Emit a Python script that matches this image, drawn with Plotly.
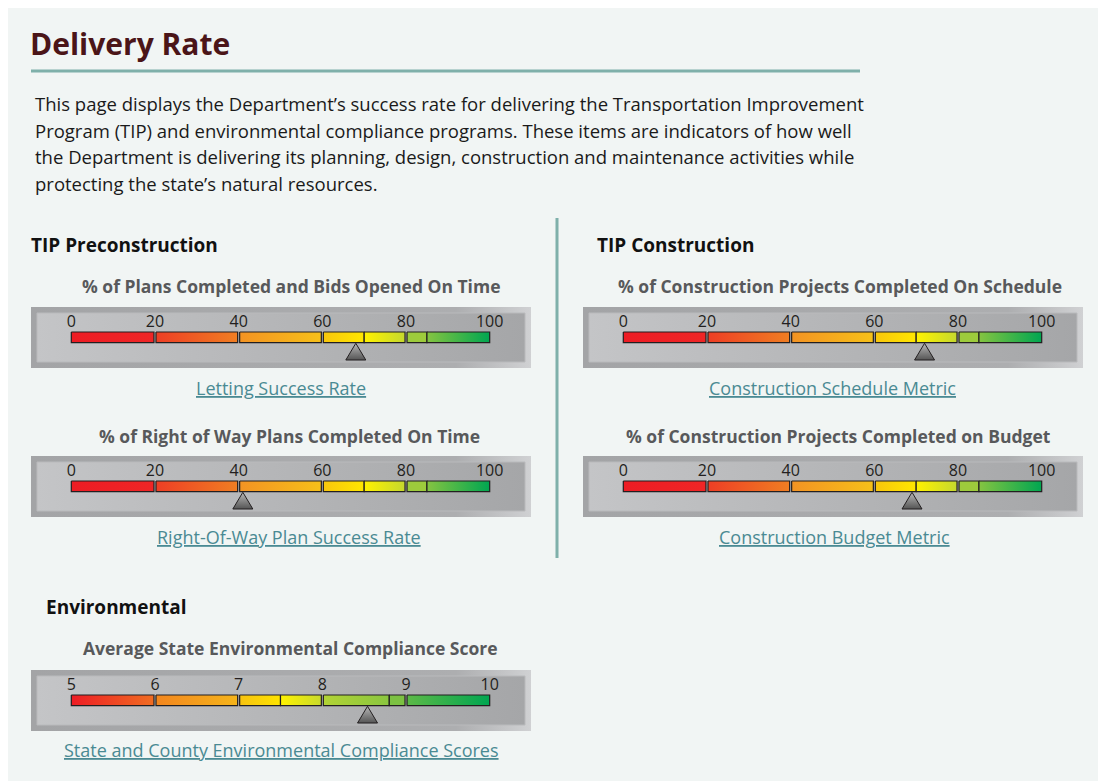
import plotly.graph_objects as go

# page offset of the plot inside the browser body (default body margin)
OFF = 8
W, H = 1106 - OFF, 781 - OFF
FONT = "Open Sans"

# ---------------- data ----------------
gauge_titles = [
    "% of Plans Completed and Bids Opened On Time",
    "% of Right of Way Plans Completed On Time",
    "% of Construction Projects Completed On Schedule",
    "% of Construction Projects Completed on Budget",
    "Average State Environmental Compliance Score",
]
gauge_links = [
    "Letting Success Rate",
    "Right-Of-Way Plan Success Rate",
    "Construction Schedule Metric",
    "Construction Budget Metric",
    "State and County Environmental Compliance Scores",
]
gauge_values = [68, 41, 72, 69, 8.54]
scale_min = [0, 0, 0, 0, 5]
scale_max = [100, 100, 100, 100, 10]

pct_ticks = [0, 20, 40, 60, 80, 100]
pct_tick_labels = ["0", "20", "40", "60", "80", "100"]
env_ticks = [5, 6, 7, 8, 9, 10]
env_tick_labels = ["5", "6", "7", "8", "9", "10"]

pct_bands = [(0, 20), (20, 40), (40, 60), (60, 70), (70, 80), (80, 85), (85, 100)]
env_bands = [(5, 6), (6, 7), (7, 7.5), (7.5, 8), (8, 8.8), (8.8, 9), (9, 10)]

pct_band_colors = [
    ("#ed1c24", "#ef2626"),
    ("#ee3e25", "#f07e22"),
    ("#f39323", "#f6c019"),
    ("#f8c60c", "#ffe700"),
    ("#fff200", "#c5d82e"),
    ("#9dcb3c", "#9dcb3c"),
    ("#85c441", "#00a651"),
]
env_band_colors = [
    ("#ed1c24", "#f06d22"),
    ("#f3861f", "#f5b41a"),
    ("#f7c210", "#fde400"),
    ("#fff200", "#c8da2c"),
    ("#b2d335", "#8ac640"),
    ("#7cc142", "#7cc142"),
    ("#5cb947", "#00a651"),
]

# ---------------- layout (pixel positions in the 1106x781 window) ----------------
gauge_left = [31, 31, 583, 583, 31]
gauge_top = [307, 456, 307, 456, 670]
title_pos = [(291, 286), (289, 436), (840, 286), (838, 436), (290, 648)]
link_pos = [(281, 388), (289, 537), (833, 388), (834, 537), (281, 750)]

BOX_W, BOX_H = 500, 61
BAR_LEFT, BAR_W = 40.3, 418.4
BAR_TOP, BAR_BOT = 25, 35.7
LABEL_Y = 15.5
TRI_TOP, TRI_BOT, TRI_HALF = 36.3, 53.0, 10.0
INSET = 6
GAP_PX = 1.0


def fx(px):
    return (px - OFF) / W


def fy(py):
    return 1 - (py - OFF) / H


fig = go.Figure()
layout_axes = {}

for i in range(5):
    lo, hi = scale_min[i], scale_max[i]
    upu = (hi - lo) / BAR_W  # units per pixel
    r0 = lo - BAR_LEFT * upu
    r1 = r0 + BOX_W * upu
    xa = "x" if i == 0 else f"x{i+1}"
    ya = "y" if i == 0 else f"y{i+1}"
    xkey = "xaxis" if i == 0 else f"xaxis{i+1}"
    ykey = "yaxis" if i == 0 else f"yaxis{i+1}"
    layout_axes[xkey] = dict(domain=[fx(gauge_left[i]), fx(gauge_left[i] + BOX_W)],
                             range=[r0, r1], visible=False, fixedrange=True)
    layout_axes[ykey] = dict(domain=[fy(gauge_top[i] + BOX_H), fy(gauge_top[i])],
                             range=[BOX_H, 0], visible=False, fixedrange=True)

    def poly(x0, x1, y0, y1, grad, line_color="rgba(0,0,0,0)", lw=0, gtype="horizontal"):
        fig.add_trace(go.Scatter(
            x=[x0, x1, x1, x0, x0], y=[y0, y0, y1, y1, y0],
            mode="lines", fill="toself", fillgradient=dict(type=gtype, colorscale=grad),
            line=dict(color=line_color, width=lw),
            xaxis=xa, yaxis=ya, hoverinfo="skip", showlegend=False))

    # outer frame
    poly(r0, r1, 0, BOX_H, [[0, "#a3a4a6"], [0.85, "#adaeb0"], [1, "#d0d1d3"]])
    # inner panel
    poly(r0 + INSET * upu, r1 - INSET * upu, INSET, BOX_H - INSET,
         [[0, "#c4c5c7"], [1, "#a5a6a8"]], line_color="#b9babc", lw=1)

    bands = pct_bands if hi == 100 else env_bands
    colors = pct_band_colors if hi == 100 else env_band_colors
    ticks = pct_ticks if hi == 100 else env_ticks
    labels = pct_tick_labels if hi == 100 else env_tick_labels
    majors = ticks[1:-1]
    for (b0, b1), (c0, c1) in zip(bands, colors):
        x0 = b0 + (GAP_PX * upu if b0 in majors else 0)
        x1 = b1 - (GAP_PX * upu if b1 in majors else 0)
        poly(x0, x1, BAR_TOP, BAR_BOT, [[0, c0], [1, c1]], line_color="#231f20", lw=1.2)

    # tick labels
    fig.add_trace(go.Scatter(
        x=ticks, y=[LABEL_Y] * len(ticks), mode="text", text=labels,
        textposition="middle center",
        textfont=dict(family=FONT, size=16, color="#231f20"),
        xaxis=xa, yaxis=ya, hoverinfo="skip", showlegend=False))

    # pointer triangle at value
    v = gauge_values[i]
    hw = TRI_HALF * upu
    fig.add_trace(go.Scatter(
        x=[v, v + hw, v - hw, v], y=[TRI_TOP, TRI_BOT, TRI_BOT, TRI_TOP],
        mode="lines", fill="toself",
        fillgradient=dict(type="vertical", colorscale=[[0, "#b8b8b8"], [1, "#555555"]],
                          start=TRI_TOP, stop=TRI_BOT),
        line=dict(color="#231f20", width=1),
        xaxis=xa, yaxis=ya, hoverinfo="skip", showlegend=False))

annotations = []


def ann(text, px, py, size, color, bold=False, xanchor="left", underline=False):
    f = dict(family=FONT, size=size, color=color)
    if underline:
        f["lineposition"] = "under"
    annotations.append(dict(
        text=f"<b>{text}</b>" if bold else text,
        x=fx(px), y=fy(py), xref="paper", yref="paper",
        xanchor=xanchor, yanchor="middle", showarrow=False, font=f))


ann("Delivery Rate", 28, 43, 30, "#4b1518", bold=True)
para = [
    "This page displays the Department’s success rate for delivering the Transportation Improvement",
    "Program (TIP) and environmental compliance programs. These items are indicators of how well",
    "the Department is delivering its planning, design, construction and maintenance activities while",
    "protecting the state’s natural resources.",
]
for k, line in enumerate(para):
    ann(line, 33, 104 + k * 26.4, 18.5, "#1a1a1a")

ann("TIP Preconstruction", 29, 245, 19, "#111111", bold=True)
ann("TIP Construction", 595, 245, 19, "#111111", bold=True)
ann("Environmental", 44, 607, 19, "#111111", bold=True)

for i in range(5):
    ann(gauge_titles[i], title_pos[i][0], title_pos[i][1], 17.5, "#58595b", bold=True, xanchor="center")
    ann(gauge_links[i], link_pos[i][0], link_pos[i][1], 18, "#4a8a93", xanchor="center", underline=True)

shapes = [
    dict(type="line", xref="paper", yref="paper", x0=fx(31), x1=fx(860), y0=fy(71), y1=fy(71),
         line=dict(color="#7fb0aa", width=3)),
    dict(type="line", xref="paper", yref="paper", x0=fx(557), x1=fx(557), y0=fy(218), y1=fy(558),
         line=dict(color="#7fb0aa", width=3)),
]

fig.update_layout(
    width=W, height=H, margin=dict(l=0, r=0, t=0, b=0),
    paper_bgcolor="#f1f5f4", plot_bgcolor="rgba(0,0,0,0)",
    annotations=annotations, shapes=shapes, showlegend=False,
    **layout_axes,
)

fig.write_html("out.html", config={"displayModeBar": False})
